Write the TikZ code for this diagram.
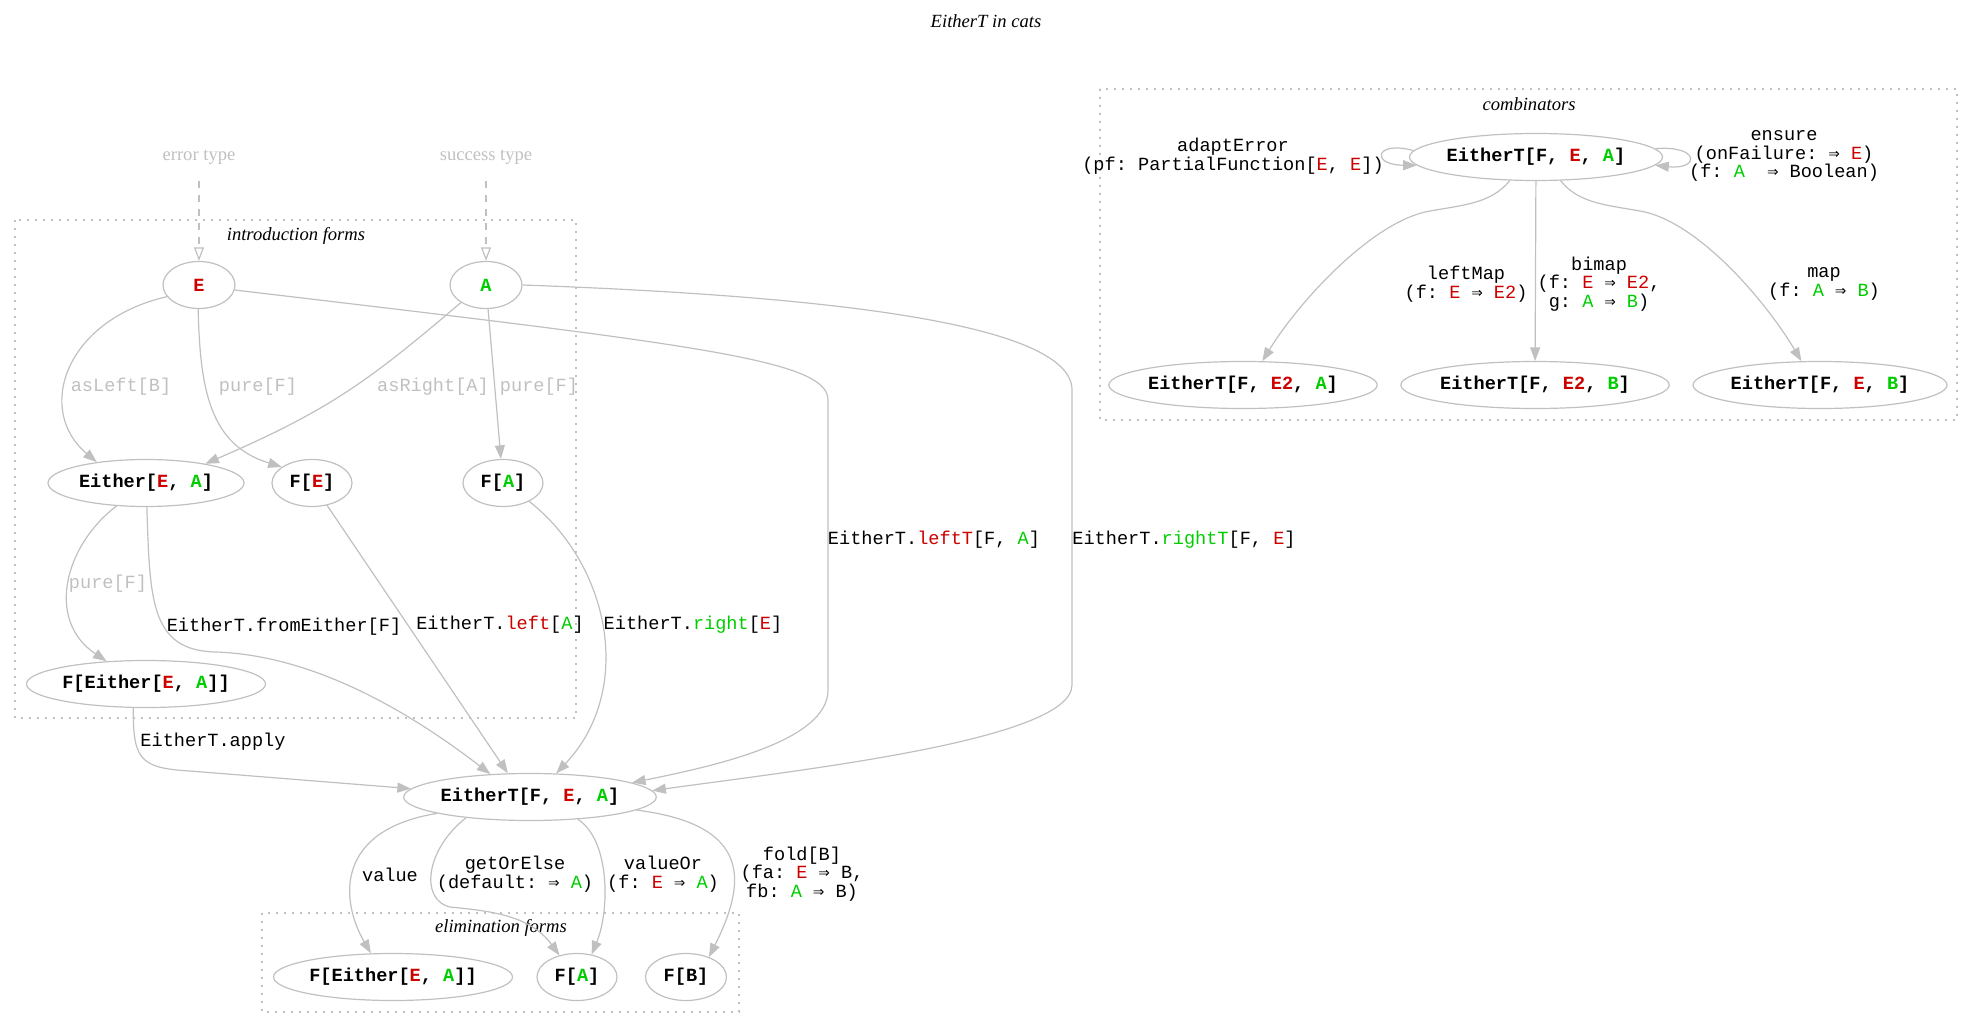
\documentclass[tikz,border=0pt]{standalone}
\usepackage{fontspec}
\setmainfont{Liberation Serif}
\setmonofont{Liberation Mono}
\newfontfamily\arrowfont{DejaVu Sans Mono}
\usetikzlibrary{shapes.geometric,arrows.meta}
\definecolor{edgegray}{HTML}{C0C0C0}
\definecolor{tred}{HTML}{CD0000}
\definecolor{tgreen}{HTML}{00CD00}
\newcommand{\rtxt}[1]{\textcolor{tred}{#1}}
\newcommand{\gtxt}[1]{\textcolor{tgreen}{#1}}
\newcommand{\darr}{{\arrowfont ⇒}}

\begin{document}
\begin{tikzpicture}[
  x=0.5pt, y=-0.5pt,
  every node/.style={font=\fontsize{9.3}{9.4}\selectfont},
  tnode/.style={
    ellipse, draw=edgegray, line width=0.6pt, inner sep=0pt,
    minimum width=#1, minimum height=23.5pt,
    font=\fontsize{9.3}{9.4}\selectfont\ttfamily\bfseries},
  lbl/.style={align=center, inner sep=0pt,
    font=\fontsize{9.3}{9.4}\selectfont\ttfamily},
  glbl/.style={lbl, text=edgegray},
  hint/.style={text=edgegray},
  ctitle/.style={font=\fontsize{9.3}{9.4}\selectfont\itshape},
  clbox/.style={draw=edgegray, line width=0.6pt,
    dash pattern=on 0.8pt off 3.2pt},
  conn/.style={draw=edgegray, line width=0.6pt,
    -{Triangle[length=6.8pt,width=5pt]}},
  hintconn/.style={conn, dash pattern=on 3.5pt off 3.5pt,
    -{Triangle[open,length=6.8pt,width=5pt]}},
  ]
  \useasboundingbox (0,0) rectangle (1973,1027);

  \node[ctitle] (title) at (986,21) {EitherT in cats};

  % introduction forms
  \draw[clbox] (15,220) rectangle (576,718);
  \node[ctitle] (introT) at (296,236) {introduction forms};
  \node[hint] (errT) at (199,157) {error type};
  \node[hint] (sucT) at (486,157) {success type};
  \node[tnode=36pt] (E) at (199,285) {\rtxt{E}};
  \node[tnode=36pt] (A) at (486,285) {\gtxt{A}};
  \node[tnode=98pt] (Either) at (146,483) {Either[\rtxt{E}, \gtxt{A}]};
  \node[tnode=40pt] (FE) at (312,483) {F[\rtxt{E}]};
  \node[tnode=40pt] (FA) at (503,483) {F[\gtxt{A}]};
  \node[tnode=119.5pt] (FEither) at (146,684) {F[Either[\rtxt{E}, \gtxt{A}]]};

  \node[tnode=126pt] (main) at (530,797) {EitherT[F, \rtxt{E}, \gtxt{A}]};

  % elimination forms
  \draw[clbox] (262,913) rectangle (739,1012);
  \node[ctitle] (elimT) at (501,928) {elimination forms};
  \node[tnode=119.5pt] (eFEither) at (393,977) {F[Either[\rtxt{E}, \gtxt{A}]]};
  \node[tnode=40pt] (eFA) at (577,977) {F[\gtxt{A}]};
  \node[tnode=40.5pt] (eFB) at (686,977) {F[B]};

  % combinators
  \draw[clbox] (1100,89) rectangle (1957,420);
  \node[ctitle] (combT) at (1529,104) {combinators};
  \node[tnode=126.5pt] (top) at (1536,157) {EitherT[F, \rtxt{E}, \gtxt{A}]};
  \node[tnode=133pt] (E2A) at (1243,385) {EitherT[F, \rtxt{E2}, \gtxt{A}]};
  \node[tnode=133pt] (E2B) at (1535,385) {EitherT[F, \rtxt{E2}, \gtxt{B}]};
  \node[tnode=127pt] (EB) at (1820,385) {EitherT[F, \rtxt{E}, \gtxt{B}]};

  % edge labels
  \node[glbl] (lAsLeft) at (121,387) {asLeft[B]};
  \node[glbl] (lPureE) at (258,387) {pure[F]};
  \node[glbl] (lAsRight) at (433,387) {asRight[A]};
  \node[glbl] (lPureA) at (539,387) {pure[F]};
  \node[glbl] (lPureEither) at (108,584) {pure[F]};
  \node[lbl] (lFromEither) at (284,627) {EitherT.fromEither[F]};
  \node[lbl] (lLeft) at (500,625) {EitherT.\rtxt{left}[\gtxt{A}]};
  \node[lbl] (lRight) at (693,625) {EitherT.\gtxt{right}[\rtxt{E}]};
  \node[lbl] (lLeftT) at (934,540) {EitherT.\rtxt{leftT}[F, \gtxt{A}]};
  \node[lbl] (lRightT) at (1184,540) {EitherT.\gtxt{rightT}[F, \rtxt{E}]};
  \node[lbl] (lApply) at (213,742) {EitherT.apply};
  \node[lbl] (lValue) at (390,875) {value};
  \node[lbl] (lGetOrElse) at (515,874) {getOrElse\\(default: \darr{} \gtxt{A})};
  \node[lbl] (lValueOr) at (663,874) {valueOr\\(f: \rtxt{E} \darr{} \gtxt{A})};
  \node[lbl] (lFold) at (802,874) {fold[B]\\(fa: \rtxt{E} \darr{} B,\\fb: \gtxt{A} \darr{} B)};
  \node[lbl] (lAdapt) at (1233,156) {adaptError\\(pf: PartialFunction[\rtxt{E}, \rtxt{E}])};
  \node[lbl] (lEnsure) at (1784,156) {ensure\\(onFailure: \darr{} \rtxt{E})\\(f: \gtxt{A}\ \ \darr{} Boolean)};
  \node[lbl] (lLeftMap) at (1466,284) {leftMap\\(f: \rtxt{E} \darr{} \rtxt{E2})};
  \node[lbl] (lBimap) at (1599,284) {bimap\\(f: \rtxt{E} \darr{} \rtxt{E2},\\g: \gtxt{A} \darr{} \gtxt{B})};
  \node[lbl] (lMap) at (1824,284) {map\\(f: \gtxt{A} \darr{} \gtxt{B})};

  % type hints
  \draw[hintconn, shorten <=5pt] (errT) -- (E);
  \draw[hintconn, shorten <=5pt] (sucT) -- (A);

  % introduction
  \draw[conn] (E.200) .. controls (65,320) and (35,410) .. (Either.157);
  \draw[conn] (E.268) .. controls (200,390) and (210,445) .. (FE.152);
  \draw[conn] (A.215) .. controls (370,380) and (330,410) .. (Either.18);
  \draw[conn] (A) -- (FA);
  \draw[conn] (E.352) .. controls (700,345) and (828,360) .. (828,400)
    -- (828,690) .. controls (828,740) and (720,765) .. (main.8);
  \draw[conn] (A.east) .. controls (800,295) and (1072,320) .. (1072,390)
    -- (1072,685) .. controls (1072,740) and (800,770) .. (main.3);
  \draw[conn] (Either.218) .. controls (65,545) and (45,620) .. (FEither.150);
  \draw[conn] (Either.272) .. controls (150,600) and (150,650) .. (215,652)
    .. controls (320,655) and (420,720) .. (main.150);
  \draw[conn] (FE) -- (main.133);
  \draw[conn] (FA.325) .. controls (610,565) and (635,690) .. (main.42);
  \draw[conn] (FEither.242) .. controls (133,760) and (140,768) .. (190,771)
    -- (main.176);

  % elimination
  \draw[conn] (main.190) .. controls (335,830) and (340,900) .. (eFEither.133);
  \draw[conn] (main.198) .. controls (425,850) and (420,900) .. (450,907)
    .. controls (490,911) and (530,915) .. (eFA.129);
  \draw[conn] (main.335) .. controls (610,840) and (610,910) .. (eFA.57);
  \draw[conn] (main.353) .. controls (755,825) and (745,885) .. (eFB.41);

  % combinators
  \draw[conn] (top.177) .. controls (1375,140) and (1370,165) .. (top.184);
  \draw[conn] (top.4) .. controls (1700,145) and (1700,170) .. (top.356);
  \draw[conn] (top.222) .. controls (1490,205) and (1460,205) .. (1425,212)
    .. controls (1370,225) and (1300,300) .. (E2A.51);
  \draw[conn] (top) -- (E2B);
  \draw[conn] (top.316) .. controls (1580,205) and (1610,205) .. (1645,212)
    .. controls (1700,225) and (1765,300) .. (EB.128);
\end{tikzpicture}
\end{document}
